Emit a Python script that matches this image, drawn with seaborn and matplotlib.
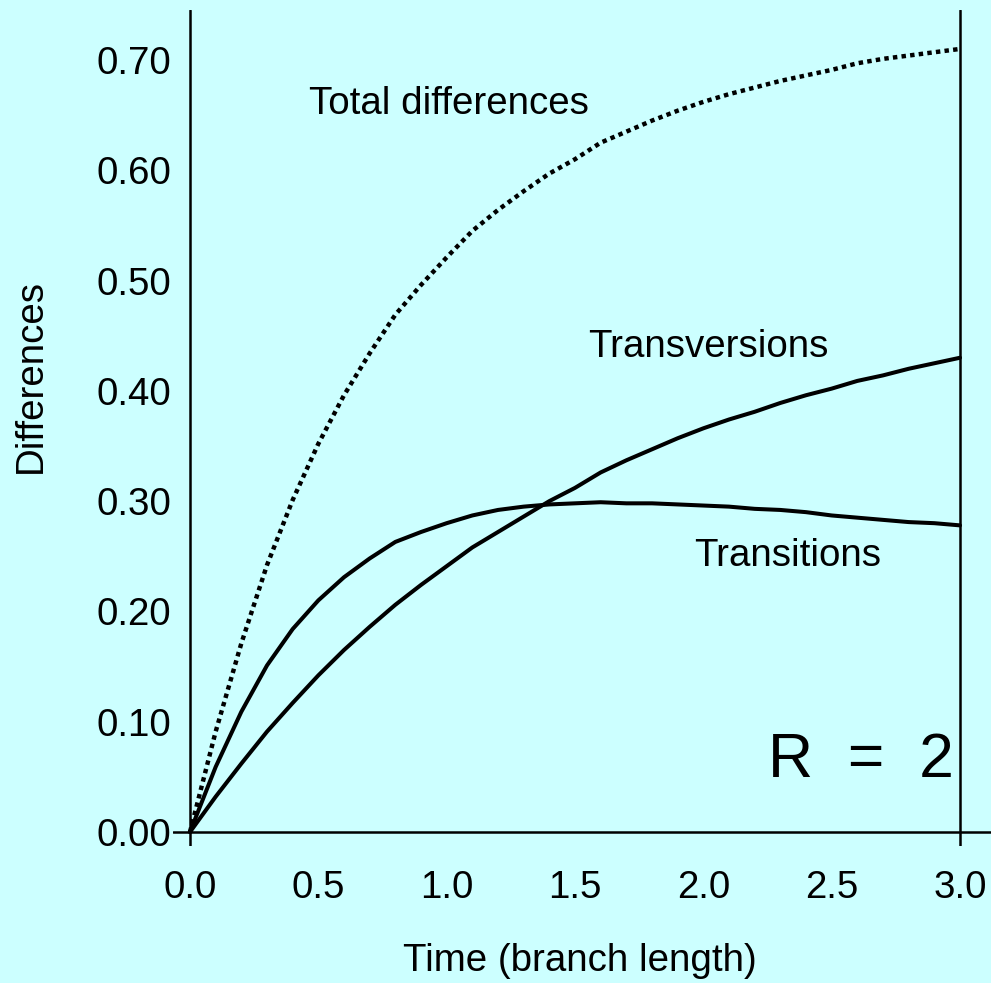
import matplotlib
matplotlib.use("Agg")
import matplotlib.pyplot as plt
import pandas as pd
import seaborn as sns

# ---- data ----
time = [0.0, 0.1, 0.2, 0.3, 0.4, 0.5, 0.6, 0.7, 0.8, 0.9, 1.0,
        1.1, 1.2, 1.3, 1.4, 1.5, 1.6, 1.7, 1.8, 1.9, 2.0,
        2.1, 2.2, 2.3, 2.4, 2.5, 2.6, 2.7, 2.8, 2.9, 3.0]
transitions = [0.000, 0.059, 0.109, 0.151, 0.184, 0.210, 0.231, 0.248, 0.263, 0.272, 0.280,
               0.287, 0.292, 0.295, 0.297, 0.298, 0.299, 0.298, 0.298, 0.297, 0.296,
               0.295, 0.293, 0.292, 0.290, 0.287, 0.285, 0.283, 0.281, 0.280, 0.278]
transversions = [0.000, 0.032, 0.062, 0.091, 0.117, 0.142, 0.165, 0.186, 0.206, 0.224, 0.241,
                 0.258, 0.272, 0.286, 0.300, 0.312, 0.326, 0.337, 0.347, 0.357, 0.366,
                 0.374, 0.381, 0.389, 0.396, 0.402, 0.409, 0.414, 0.420, 0.425, 0.430]
total = [0.000, 0.091, 0.171, 0.242, 0.301, 0.352, 0.396, 0.434, 0.469, 0.496, 0.521,
         0.545, 0.564, 0.581, 0.597, 0.610, 0.625, 0.635, 0.645, 0.654, 0.662,
         0.669, 0.675, 0.681, 0.686, 0.691, 0.697, 0.701, 0.704, 0.707, 0.710]

x_ticks = [0.0, 0.5, 1.0, 1.5, 2.0, 2.5, 3.0]
x_tick_labels = ["0.0", "0.5", "1.0", "1.5", "2.0", "2.5", "3.0"]
y_ticks = [0.0, 0.1, 0.2, 0.3, 0.4, 0.5, 0.6, 0.7]
y_tick_labels = ["0.00", "0.10", "0.20", "0.30", "0.40", "0.50", "0.60", "0.70"]

df = pd.DataFrame({"time": time, "transitions": transitions,
                   "transversions": transversions, "total": total})

BG = "#CCFFFF"
sns.set_style("white")
plt.rcParams["font.family"] = ["Liberation Sans", "DejaVu Sans"]
plt.rcParams["text.color"] = "black"

W, H = 991, 983
fig = plt.figure(figsize=(W / 100, H / 100), dpi=100, facecolor=BG)
# axes spans from the left overhang of the x axis line to the right edge
ax = fig.add_axes([173 / W, (H - 846) / H, (W - 173) / W, (846 - 10) / H])
ax.set_facecolor(BG)
ax.set_xlim(-0.0662, 3.1208)
ax.set_ylim(-0.0127, 0.7453)

lw = 2.9
sns.lineplot(data=df, x="time", y="total", ax=ax, color="black", lw=3.2,
             linestyle=(0, (1, 0.95)), dash_capstyle="butt", clip_on=False)
sns.lineplot(data=df, x="time", y="transitions", ax=ax, color="black", lw=lw,
             solid_joinstyle="round", clip_on=False)
sns.lineplot(data=df, x="time", y="transversions", ax=ax, color="black", lw=lw,
             solid_joinstyle="round", clip_on=False)

# axis lines crossing at the origin, plus the line at t = 3.0
ax.axhline(0, color="black", lw=1.8, zorder=1)
ax.axvline(0, color="black", lw=1.8, zorder=1)
ax.axvline(3.0, color="black", lw=1.8, zorder=1)

for s in ax.spines.values():
    s.set_visible(False)

fs = 27.7
ax.set_xticks(x_ticks)
ax.set_xticklabels(x_tick_labels)
ax.set_yticks(y_ticks)
ax.set_yticklabels(y_tick_labels)
ax.tick_params(axis="both", length=0, labelsize=fs, colors="black")
ax.tick_params(axis="x", pad=17)
ax.tick_params(axis="y", pad=1)

ax.set_xlabel("Time (branch length)", fontsize=fs, color="black")
ax.xaxis.set_label_coords((580 - 173) / (W - 173), (846 - 961) / (846 - 10))
ax.xaxis.label.set_va("center")
ax.set_ylabel("Differences", fontsize=fs, color="black")
ax.yaxis.set_label_coords((31 - 173) / (W - 173), (846 - 376) / (846 - 10))
ax.yaxis.label.set_va("center")

ax.text(1.01, 0.660, "Total differences", fontsize=fs, ha="center", va="center", color="black")
ax.text(2.02, 0.440, "Transversions", fontsize=fs, ha="center", va="center", color="black")
ax.text(2.33, 0.250, "Transitions", fontsize=fs, ha="center", va="center", color="black")
ax.text(2.975, 0.065, "R  =  2", fontsize=45, ha="right", va="center", color="black")

fig.savefig("out.png", dpi=100, facecolor=BG)
